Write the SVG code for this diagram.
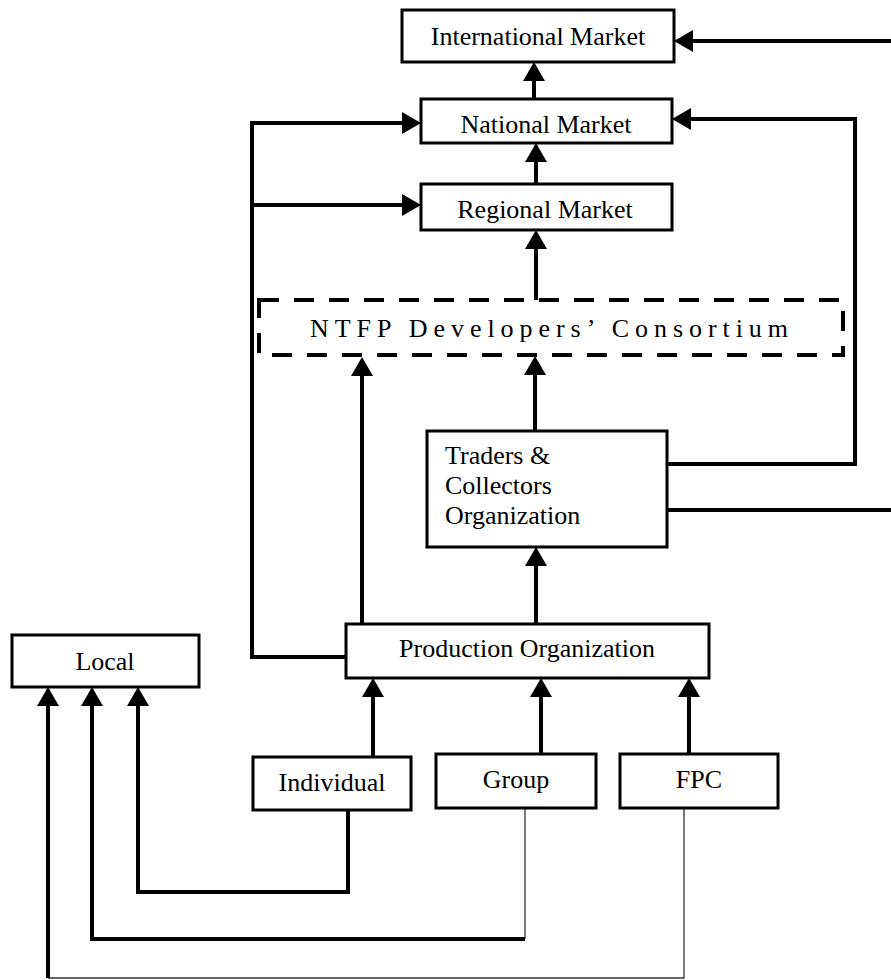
<svg xmlns="http://www.w3.org/2000/svg" width="891" height="980" viewBox="0 0 891 980">
<style>
  .box { fill: #fff; stroke: #000; stroke-width: 3; }
  .dash { fill: none; stroke: #000; stroke-width: 4; stroke-dasharray: 20 15; }
  .lbl { font-family: "Liberation Serif", "Times New Roman", serif; font-size: 26px; fill: #000; }
  .c { text-anchor: middle; }
  .thick { fill: none; stroke: #000; stroke-width: 4; }
  .thin { fill: none; stroke: #333; stroke-width: 1.3; }
</style>
<defs>
  <marker id="ah" viewBox="0 0 19 22" refX="11" refY="11" markerWidth="19" markerHeight="22" markerUnits="userSpaceOnUse" orient="auto">
    <path d="M0,0 L19,11 L0,22 z" fill="#000"/>
  </marker>
</defs>
<rect width="891" height="980" fill="#fff"/>

<g id="connectors">
  <path class="thick" d="M891,41 H682" marker-end="url(#ah)"/>
  <path class="thick" d="M534,99 V70" marker-end="url(#ah)"/>
  <path class="thick" d="M536,184 V151" marker-end="url(#ah)"/>
  <path class="thick" d="M536,300 V238" marker-end="url(#ah)"/>
  <path class="thick" d="M535,431 V364" marker-end="url(#ah)"/>
  <path class="thick" d="M362,624 V365" marker-end="url(#ah)"/>
  <path class="thick" d="M536,624 V555" marker-end="url(#ah)"/>
  <path class="thick" d="M346,657 H252 V123 H413" marker-end="url(#ah)"/>
  <path class="thick" d="M252,205 H413" marker-end="url(#ah)"/>
  <path class="thick" d="M667,464 H855 V119 H680" marker-end="url(#ah)"/>
  <path class="thick" d="M667,510 H891"/>
  <path class="thick" d="M373,757 V686" marker-end="url(#ah)"/>
  <path class="thick" d="M541,754 V686" marker-end="url(#ah)"/>
  <path class="thick" d="M689,754 V686" marker-end="url(#ah)"/>
  <path class="thick" d="M348,810 V892 H138 V695" marker-end="url(#ah)"/>
  <path class="thin" d="M525,808 V939"/>
  <path class="thick" d="M525,939 H92 V695" marker-end="url(#ah)"/>
  <path class="thin" d="M684,808 V978 H48"/>
  <path class="thick" d="M48,978 V695" marker-end="url(#ah)"/>
</g>

<g id="international">
  <rect class="box" x="402" y="10" width="272" height="52"/>
  <text class="lbl c" x="538" y="45">International Market</text>
</g>
<g id="national">
  <rect class="box" x="421" y="99" width="251" height="44"/>
  <text class="lbl c" x="546" y="133">National Market</text>
</g>
<g id="regional">
  <rect class="box" x="421" y="184" width="251" height="46"/>
  <text class="lbl c" x="545" y="218">Regional Market</text>
</g>
<g id="consortium">
  <rect class="dash" x="259" y="300" width="584" height="55"/>
  <text class="lbl" x="310" y="337" textLength="478" lengthAdjust="spacing">NTFP Developers’ Consortium</text>
</g>
<g id="traders">
  <rect class="box" x="427" y="431" width="240" height="116"/>
  <text class="lbl" x="445" y="464">Traders &amp;</text>
  <text class="lbl" x="445" y="494">Collectors</text>
  <text class="lbl" x="445" y="524">Organization</text>
</g>
<g id="production">
  <rect class="box" x="346" y="624" width="363" height="54"/>
  <text class="lbl c" x="527" y="657">Production Organization</text>
</g>
<g id="local">
  <rect class="box" x="12" y="635" width="187" height="52"/>
  <text class="lbl c" x="105" y="670">Local</text>
</g>
<g id="individual">
  <rect class="box" x="253" y="757" width="158" height="53"/>
  <text class="lbl c" x="332" y="791">Individual</text>
</g>
<g id="group">
  <rect class="box" x="436" y="754" width="160" height="54"/>
  <text class="lbl c" x="516" y="788">Group</text>
</g>
<g id="fpc">
  <rect class="box" x="620" y="754" width="158" height="54"/>
  <text class="lbl c" x="699" y="788">FPC</text>
</g>
</svg>
